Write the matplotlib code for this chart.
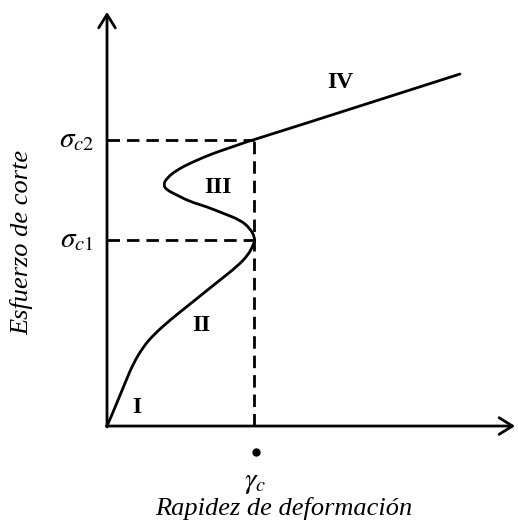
import matplotlib
matplotlib.use("Agg")
import matplotlib.pyplot as plt
from matplotlib.path import Path
from matplotlib.patches import PathPatch

plt.rcParams['font.family'] = 'Liberation Serif'
plt.rcParams['mathtext.fontset'] = 'stix'

# flow curve, shear rate normalised by gamma_c, stress by sigma_c1
rate = [0.0, 0.009, 0.066, 0.122, 0.179, 0.247, 0.315, 0.429, 0.542, 0.655,
        0.769, 0.882, 0.961, 1.0, 1.007, 0.973, 0.905, 0.791, 0.678, 0.565,
        0.474, 0.406, 0.383, 0.406, 0.474, 0.587, 0.723, 0.859, 0.973, 1.0,
        2.401]
stress = [0.0, 0.015, 0.122, 0.230, 0.337, 0.426, 0.489, 0.570, 0.641, 0.713,
          0.785, 0.856, 0.919, 0.982, 1.011, 1.063, 1.108, 1.143, 1.179, 1.206,
          1.242, 1.269, 1.296, 1.332, 1.376, 1.421, 1.466, 1.502, 1.534, 1.538,
          1.892]

gamma_c = 1.0
sigma_c1 = 1.0
sigma_c2 = 1.538

regions = ['I', 'II', 'III', 'IV']
region_x = [0.204, 0.644, 0.755, 1.585]
region_y = [0.102, 0.543, 1.280, 1.849]

fig = plt.figure(figsize=(5.18, 5.25), dpi=100)
ax = fig.add_axes([0, 0, 1, 1])
ax.set_xlim(-0.728, 2.796)
ax.set_ylim(-0.532, 2.290)
ax.axis('off')

# axes with open arrowheads
arrow = dict(arrowstyle='->,head_length=0.8,head_width=0.5', lw=2.0,
             color='black', mutation_scale=12, shrinkA=0, shrinkB=0)
ax.annotate('', xy=(2.776, 0), xytext=(-0.005, 0), arrowprops=arrow)
ax.annotate('', xy=(0, 2.226), xytext=(0, -0.005), arrowprops=arrow)

# critical values
dash = dict(color='black', lw=2.0, dashes=(4.5, 2.5))
ax.plot([0, gamma_c], [sigma_c1, sigma_c1], **dash)
ax.plot([0, gamma_c], [sigma_c2, sigma_c2], **dash)
ax.plot([gamma_c, gamma_c], [0, sigma_c2], **dash)

# smooth the read points with quadratic Bezier pieces (points as controls)
pts = list(zip(rate, stress))
verts = [pts[0]]
codes = [Path.MOVETO]
for i in range(1, len(pts) - 2):
    mid = ((pts[i][0] + pts[i + 1][0]) / 2, (pts[i][1] + pts[i + 1][1]) / 2)
    verts += [pts[i], mid]
    codes += [Path.CURVE3, Path.CURVE3]
verts += [pts[-2], pts[-1]]
codes += [Path.CURVE3, Path.CURVE3]
ax.add_patch(PathPatch(Path(verts, codes), fill=False, lw=2.0,
                       edgecolor='black', capstyle='round'))

for name, x, y in zip(regions, region_x, region_y):
    ax.text(x, y, name, fontsize=17, fontweight='bold', ha='center',
            va='center')

ax.text(-0.09, sigma_c2, r'$\sigma_{c2}$', fontsize=21, ha='right',
        va='center')
ax.text(-0.09, sigma_c1, r'$\sigma_{c1}$', fontsize=21, ha='right',
        va='center')
ax.plot([gamma_c + 0.014], [-0.14], 'o', color='black', ms=5)
ax.text(gamma_c + 0.007, -0.306, r'$\gamma_c$', fontsize=21, ha='center',
        va='center')

ax.text(1.204, -0.441, 'Rapidez de deformación', fontsize=19,
        style='italic', ha='center', va='center')
ax.text(-0.578, 0.989, 'Esfuerzo de corte', fontsize=19, style='italic',
        rotation=90, ha='center', va='center')

fig.savefig('out.png', dpi=100)
